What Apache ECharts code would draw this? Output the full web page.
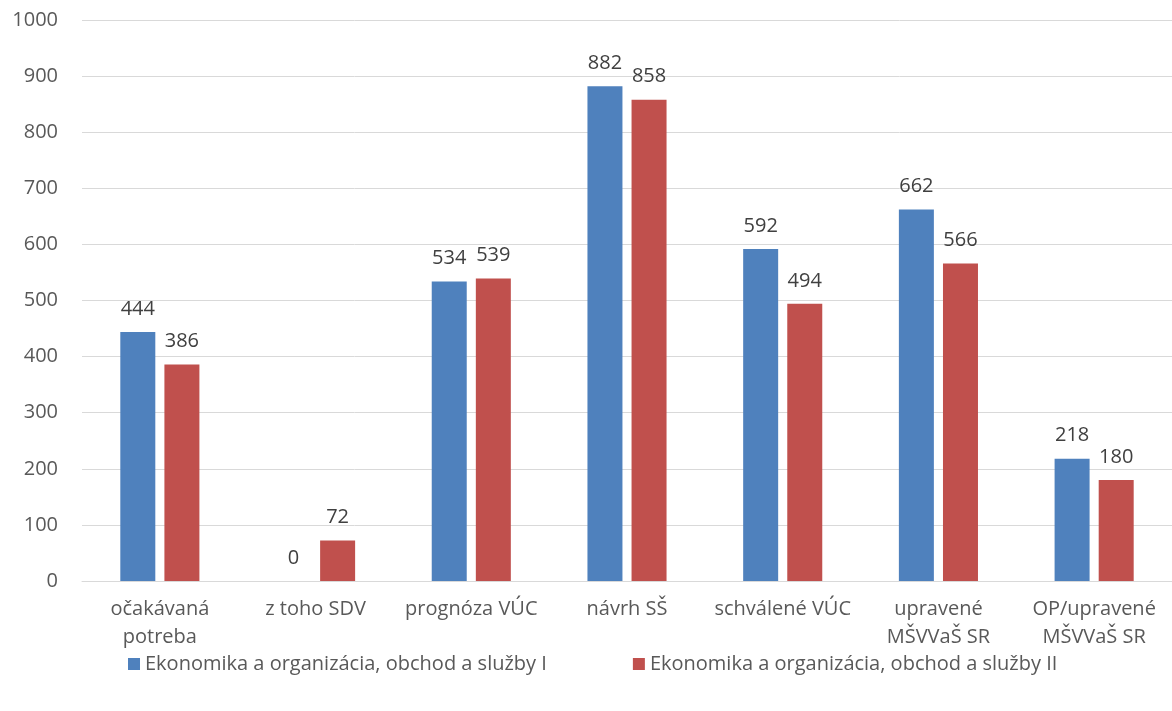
<!DOCTYPE html>
<html>
<head>
<meta charset="utf-8">
<script src="https://cdn.jsdelivr.net/npm/echarts@6/dist/echarts.min.js"></script>
<style>
  html, body { margin: 0; padding: 0; background: #fff; }
  #chart { width: 1172px; height: 711px; }
</style>
</head>
<body>
<div id="chart"></div>
<script>
var categories = ['očakávaná\npotreba', 'z toho SDV', 'prognóza VÚC', 'návrh SŠ', 'schválené VÚC', 'upravené\nMŠVVaŠ SR', 'OP/upravené\nMŠVVaŠ SR'];
var seriesNames = ['Ekonomika a organizácia, obchod a služby I', 'Ekonomika a organizácia, obchod a služby II'];
var valuesI = [444, 0, 534, 882, 592, 662, 218];
var valuesII = [386, 72, 539, 858, 494, 566, 180];
var yTicks = { min: 0, max: 1000, interval: 100 };

var font = '"Open Sans", "Noto Sans", sans-serif';

var chart = echarts.init(document.getElementById('chart'));

function barSeries(name, data, color) {
    return {
        name: name,
        type: 'bar',
        data: data,
        barWidth: 35,
        barGap: '26%',
        itemStyle: { color: color },
        label: {
            show: true,
            position: 'top',
            distance: 13,
            color: '#404040',
            fontSize: 20,
            fontFamily: font
        }
    };
}

chart.setOption({
    animation: false,
    textStyle: { fontFamily: font },
    grid: { left: 82, right: 0, top: 20, bottom: 130 },
    legend: {
        bottom: 32,
        left: 123,
        itemWidth: 12,
        itemHeight: 12,
        itemGap: 86,
        icon: 'rect',
        textStyle: { fontSize: 20, color: '#595959', fontFamily: font },
        data: seriesNames
    },
    xAxis: {
        type: 'category',
        data: categories,
        axisTick: { show: false },
        axisLine: { lineStyle: { color: '#d9d9d9', width: 1 } },
        axisLabel: {
            color: '#595959',
            fontSize: 20,
            lineHeight: 28,
            margin: 14,
            interval: 0,
            fontFamily: font
        }
    },
    yAxis: {
        type: 'value',
        min: yTicks.min,
        max: yTicks.max,
        interval: yTicks.interval,
        axisLine: { show: false },
        axisTick: { show: false },
        splitLine: { lineStyle: { color: '#d9d9d9', width: 1 } },
        axisLabel: {
            color: '#595959',
            fontSize: 20,
            margin: 24,
            fontFamily: font,
            formatter: function (v) { return String(v); }
        }
    },
    series: [
        barSeries(seriesNames[0], valuesI, '#4F81BD'),
        barSeries(seriesNames[1], valuesII, '#C0504D')
    ]
});
</script>
</body>
</html>
